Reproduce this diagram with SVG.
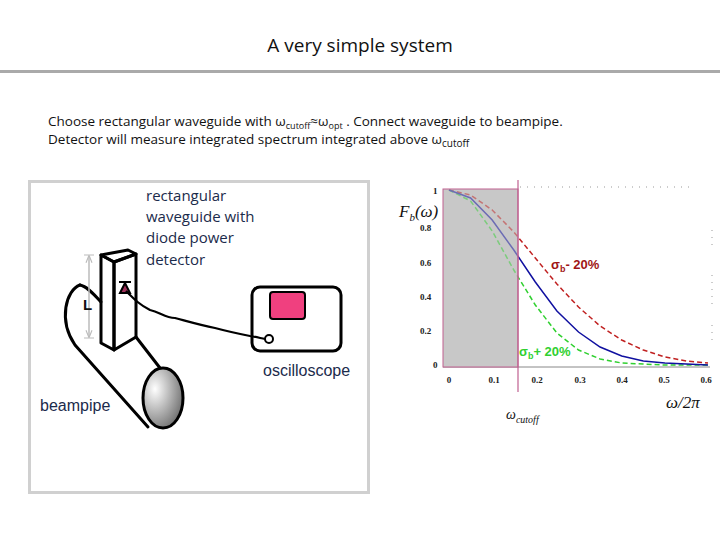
<svg xmlns="http://www.w3.org/2000/svg" width="720" height="540" viewBox="0 0 720 540">
<defs>
<radialGradient id="g" cx="0.3" cy="0.35" r="0.8"><stop offset="0" stop-color="#fff"/><stop offset="1" stop-color="#666"/></radialGradient>
<marker id="ah" viewBox="0 0 10 10" refX="9" refY="5" markerWidth="5" markerHeight="5" orient="auto-start-reverse"><path d="M0,1 L10,5 L0,9" fill="none" stroke="#bbb" stroke-width="1.5"/></marker>
</defs>
<style>
.t{font-family:"Open Sans","DejaVu Sans",sans-serif;fill:#1b2b4b}
.a{font-family:"Liberation Sans",Arial,sans-serif;fill:#1b2b4b}
.k{fill:none;stroke:#000;stroke-width:3;stroke-linejoin:round;stroke-linecap:round}
.n{font-family:"Liberation Serif",serif;font-weight:bold;font-size:9px;fill:#222}
.m{font-family:"Liberation Serif",serif;font-style:italic;fill:#111}
</style>
<rect width="720" height="540" fill="#fff"/>
<text x="360" y="52" text-anchor="middle" font-family="Open Sans, sans-serif" font-size="19" fill="#111">A very simple system</text>
<rect x="0" y="70" width="720" height="3" fill="#aaa"/>
<text x="48" y="126" font-family="Open Sans, sans-serif" font-size="13.5" fill="#111">Choose rectangular waveguide with ω<tspan font-size="9" dy="3">cutoff</tspan><tspan dy="-3">≈ω</tspan><tspan font-size="9" dy="3">opt</tspan><tspan dy="-3"> . Connect waveguide to beampipe.</tspan></text>
<text x="48" y="144" font-family="Open Sans, sans-serif" font-size="13.5" fill="#111">Detector will measure integrated spectrum integrated above ω<tspan font-size="10" dy="3">cutoff</tspan></text>
<rect x="29.5" y="181.5" width="339" height="311" fill="#fff" stroke="#d0d0d0" stroke-width="3"/>
<g id="beampipe">
<path class="k" d="M80,285 C66,290 58,320 75,345 L148,427"/>
<path class="k" d="M80,285 C86,286 92,292 101,302"/>
<path class="k" d="M136,337 L160,368"/>
<ellipse cx="163" cy="398" rx="20" ry="30" fill="url(#g)" stroke="#000" stroke-width="3"/>
<text class="a" x="40" y="411" font-size="16">beampipe</text>
</g>
<g id="waveguide">
<path class="k" d="M101,255 L128,250 L136,254 L114,262 Z" fill="#fff"/>
<path class="k" d="M101,255 L101,343 L114,350 L114,262 Z" fill="#fff"/>
<path class="k" d="M114,262 L136,254 L136,337 L114,350 Z" fill="#fff"/>
<line x1="89" y1="256" x2="89" y2="337" stroke="#bbb" stroke-width="1.5" marker-start="url(#ah)" marker-end="url(#ah)"/>
<line x1="84" y1="255" x2="94" y2="255" stroke="#bbb"/><line x1="84" y1="338" x2="94" y2="338" stroke="#bbb"/>
<text x="83" y="310" font-family="Liberation Sans, sans-serif" font-size="15" font-weight="bold" fill="#111">L</text>
<path d="M120,293 L125,283 L130,293 Z" fill="#a0305a" stroke="#000" stroke-width="2"/>
<line x1="119" y1="282" x2="131" y2="282" stroke="#000" stroke-width="2"/>
<text class="t" font-size="15"><tspan x="146" y="201">rectangular</tspan><tspan x="146" y="222">waveguide with</tspan><tspan x="146" y="243">diode power</tspan><tspan x="146" y="265">detector</tspan></text>
</g>
<g id="oscilloscope">
<rect x="252" y="287" width="89" height="64" rx="8" fill="#fff" stroke="#000" stroke-width="3"/>
<rect x="270" y="292" width="35" height="27" rx="3" fill="#f0407f" stroke="#000" stroke-width="2"/>
<text class="a" x="263" y="376" font-size="16">oscilloscope</text>
</g>
<g id="connectors">
<path d="M126,291 C135,300 140,305 150,310 C160,312 165,318 175,318 C190,322 200,325 215,328 C230,332 240,334 250,336 C256,337 260,338 265,339" fill="none" stroke="#000" stroke-width="2.2"/>
<circle cx="269" cy="339" r="4" fill="#fff" stroke="#000" stroke-width="2"/>
</g>
<g id="chart">
<g stroke="#999" stroke-width="1" stroke-dasharray="1 6"><line x1="520" y1="187" x2="690" y2="187"/><line x1="712" y1="230" x2="712" y2="250"/><line x1="712" y1="275" x2="712" y2="305"/><line x1="712" y1="325" x2="712" y2="345"/></g>
<line x1="443" y1="367" x2="710" y2="367" stroke="#888"/>
<rect x="443" y="189" width="75" height="178" fill="#c8c8c8"/>
<polyline points="449,190 470.6,195 492.2,210 513.8,232 535.3,258 556.9,284 578.5,307 600.1,326 621.7,340 643.3,350 664.9,357 686.4,361 708,363" fill="none" stroke="#c02020" stroke-width="1.5" stroke-dasharray="5 3"/>
<polyline points="449,190 470.6,201 492.2,231 513.8,270 535.3,305 556.9,333 578.5,350 600.1,359 621.7,363 643.3,364 664.9,365 686.4,365 708,365" fill="none" stroke="#30d030" stroke-width="1.5" stroke-dasharray="5 3"/>
<polyline points="449,190 470.6,198 492.2,220 513.8,250 535.3,282 556.9,311 578.5,332 600.1,347 621.7,356 643.3,361 664.9,363 686.4,364 708,365" fill="none" stroke="#1010a0" stroke-width="1.5"/>
<rect x="443" y="189" width="75" height="178" fill="#c8c8c8" fill-opacity="0.5" stroke="#c06090" stroke-width="1"/>
<line x1="518" y1="180" x2="518" y2="392" stroke="#c06090" stroke-width="1.2"/>
<text class="n" x="433" y="194">1</text><text class="n" x="420" y="231">0.8</text><text class="n" x="420" y="266">0.6</text><text class="n" x="420" y="300">0.4</text><text class="n" x="420" y="334">0.2</text><text class="n" x="433" y="368">0</text>
<g text-anchor="middle"><text class="n" x="449" y="383">0</text><text class="n" x="494" y="383">0.1</text><text class="n" x="537" y="383">0.2</text><text class="n" x="580" y="383">0.3</text><text class="n" x="622" y="383">0.4</text><text class="n" x="664" y="383">0.5</text><text class="n" x="706" y="383">0.6</text></g>
<text class="m" x="399" y="217" font-size="17">F<tspan font-size="11" dy="4">b</tspan><tspan dy="-4">(ω)</tspan></text>
<text x="551" y="269" font-family="Liberation Sans,sans-serif" font-weight="bold" font-size="13" fill="#a01515">σ<tspan font-size="9" dy="3">b</tspan><tspan dy="-3">- 20%</tspan></text>
<text x="519" y="356" font-family="Liberation Sans,sans-serif" font-weight="bold" font-size="13" fill="#30d030">σ<tspan font-size="9" dy="3">b</tspan><tspan dy="-3">+ 20%</tspan></text>
<text class="m" x="666" y="408" font-size="17">ω/2π</text>
<text class="m" x="506" y="419" font-size="14">ω<tspan font-size="10" dy="4">cutoff</tspan></text>
</g>
</svg>
